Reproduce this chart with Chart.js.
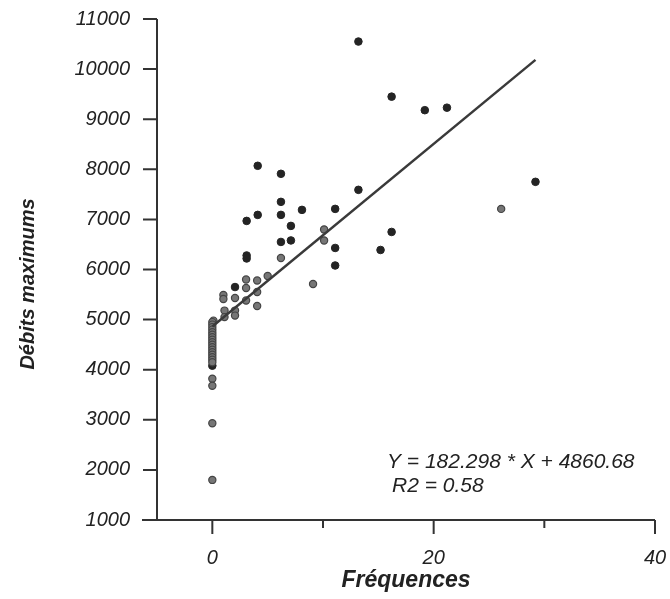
<!DOCTYPE html>
<html>
<head>
<meta charset="utf-8">
<script src="https://cdn.jsdelivr.net/npm/chart.js@4/dist/chart.umd.min.js"></script>
<style>
  html, body { margin: 0; padding: 0; background: #fff; }
  #wrap { width: 670px; height: 599px; position: relative; }
</style>
</head>
<body>
<div id="wrap"><canvas id="myChart" width="670" height="599"></canvas></div>
<script>
const darkX = [4.1, 6.2, 6.2, 3.1, 4.1, 6.2, 8.1, 11.1, 7.1, 6.2, 7.1, 11.1, 3.1, 3.1,
  13.2, 16.2, 19.2, 21.2, 13.2, 29.2, 16.2, 15.2, 11.1, 2.05, 0];
const darkY = [8070, 7910, 7350, 6970, 7090, 7090, 7190, 7210, 6870, 6550, 6580, 6430, 6280, 6220,
  10550, 9450, 9180, 9230, 7590, 7750, 6750, 6390, 6080, 5650, 4080];

const grayX = [6.2, 10.1, 10.1, 26.1, 9.1, 3.05, 3.05, 4.05, 4.05, 5.0, 1.0, 1.0, 2.05, 3.05, 4.05,
  1.1, 1.1, 2.05, 2.05, 0.1,
  0, 0, 0, 0, 0, 0, 0, 0, 0, 0, 0, 0, 0, 0, 0, 0, 0, 0, 0, 0, 0];
const grayY = [6230, 6800, 6580, 7210, 5710, 5800, 5630, 5780, 5550, 5870, 5490, 5410, 5430, 5380, 5270,
  5180, 5050, 5180, 5080, 4980,
  4950, 4900, 4850, 4800, 4750, 4700, 4650, 4600, 4550, 4500, 4450, 4400, 4350, 4300, 4250, 4200, 4150,
  3820, 3680, 2930, 1800];

// regression from the printed equation
const slope = 182.298;
const intercept = 4860.68;
const lineX = [0, 29.2];

const eqText = ['Y = 182.298 * X + 4860.68', 'R2 = 0.58'];
const xLabels = [0, 20, 40];

const font = '"Liberation Sans", Arial, sans-serif';
const ink = '#222';

const toPoints = (xs, ys) => xs.map((x, i) => ({x: x, y: ys[i]}));

// no extra room for overflowing tick labels, the layout padding does it
const noPad = s => {
  s.paddingLeft = 0;
  s.paddingRight = 0;
  s.paddingTop = 0;
  s.paddingBottom = 0;
};

const axesPlugin = {
  id: 'axesPlugin',
  afterDraw(chart) {
    const {ctx, chartArea: a, scales: {x, y}} = chart;
    ctx.save();
    ctx.strokeStyle = '#333';
    ctx.lineWidth = 2;
    ctx.beginPath();
    ctx.moveTo(a.left, a.top);
    ctx.lineTo(a.left, a.bottom);
    ctx.moveTo(a.left - 15, a.bottom);
    ctx.lineTo(a.right, a.bottom);
    // y ticks
    y.ticks.forEach(t => {
      const py = y.getPixelForValue(t.value);
      const len = t.value % 1000 === 0 ? 14 : 7;
      ctx.moveTo(a.left - len, py);
      ctx.lineTo(a.left, py);
    });
    // x ticks
    x.ticks.forEach(t => {
      const px = x.getPixelForValue(t.value);
      const len = xLabels.includes(t.value) ? 14 : 8;
      ctx.moveTo(px, a.bottom);
      ctx.lineTo(px, a.bottom + len);
    });
    ctx.stroke();

    // y title
    ctx.fillStyle = ink;
    ctx.font = 'italic bold 20px ' + font;
    ctx.textAlign = 'center';
    ctx.textBaseline = 'middle';
    ctx.translate(28, 284);
    ctx.rotate(-Math.PI / 2);
    ctx.fillText('Débits maximums', 0, 0);
    ctx.restore();

    // equation
    ctx.save();
    ctx.fillStyle = ink;
    ctx.font = 'italic 21px ' + font;
    ctx.textBaseline = 'middle';
    ctx.fillText(eqText[0], 387, 462);
    ctx.fillText(eqText[1], 392, 486);
    ctx.restore();
  }
};

new Chart(document.getElementById('myChart'), {
  type: 'scatter',
  data: {
    datasets: [
      {
        type: 'line',
        data: lineX.map(x => ({x: x, y: slope * x + intercept})),
        borderColor: '#3a3a3a',
        borderWidth: 2.5,
        pointRadius: 0,
        fill: false,
      },
      {
        data: toPoints(grayX, grayY),
        backgroundColor: '#767676',
        borderColor: '#444',
        borderWidth: 1.2,
        pointRadius: 3.6,
      },
      {
        data: toPoints(darkX, darkY),
        backgroundColor: '#242424',
        borderColor: '#242424',
        borderWidth: 1,
        pointRadius: 3.8,
      },
    ],
  },
  options: {
    responsive: false,
    animation: false,
    layout: {padding: {left: 0, right: 15, top: 19, bottom: 0}},
    plugins: {legend: {display: false}, tooltip: {enabled: false}},
    scales: {
      x: {
        type: 'linear',
        min: -5,
        max: 40,
        afterFit: s => { s.height = 79; noPad(s); },
        grid: {display: false, drawTicks: false},
        border: {display: false},
        ticks: {
          stepSize: 10,
          includeBounds: false,
          padding: 26,
          color: ink,
          font: {family: font, size: 20, style: 'italic'},
          callback: v => xLabels.includes(v) ? String(v) : '',
        },
        title: {
          display: true,
          text: 'Fréquences',
          color: ink,
          font: {family: font, size: 23, style: 'italic', weight: 'bold'},
          padding: {top: 0, bottom: 5},
        },
      },
      y: {
        type: 'linear',
        min: 1000,
        max: 11000,
        afterFit: s => { s.width = 157; noPad(s); },
        grid: {display: false, drawTicks: false},
        border: {display: false},
        ticks: {
          stepSize: 500,
          padding: 27,
          color: ink,
          font: {family: font, size: 20, style: 'italic'},
          callback: v => v % 1000 === 0 ? String(v) : '',
        },
      },
    },
  },
  plugins: [axesPlugin],
});
</script>
</body>
</html>
